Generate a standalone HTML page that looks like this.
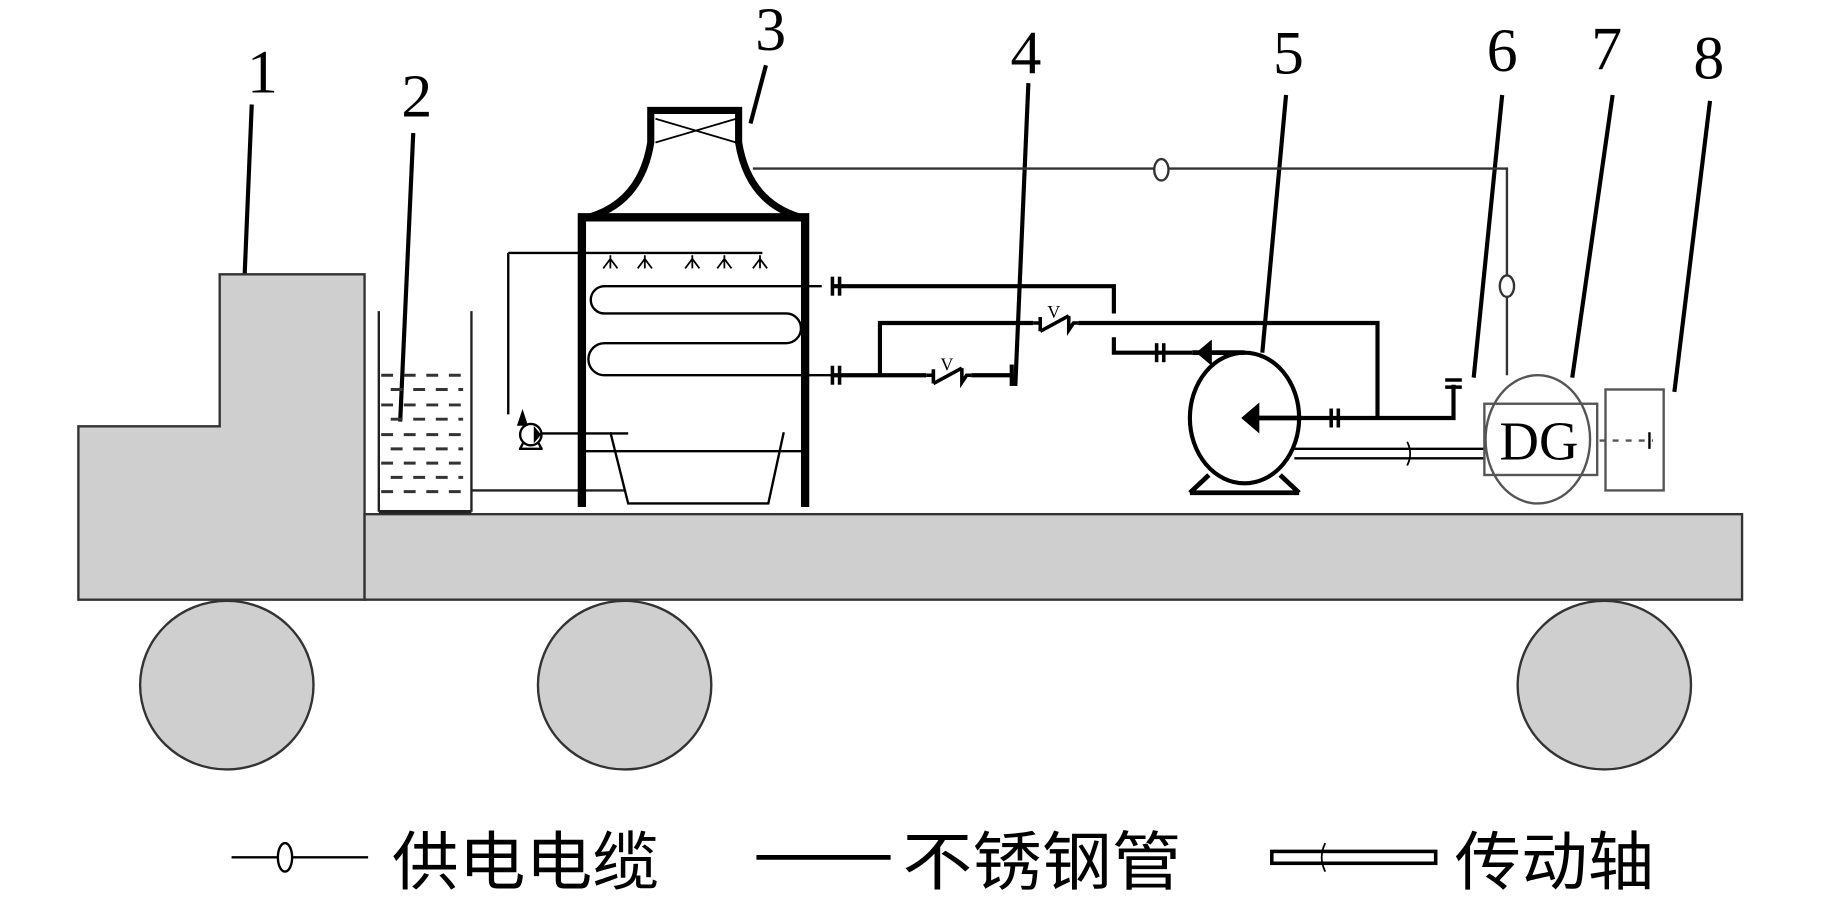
<!DOCTYPE html>
<html><head><meta charset="utf-8"><style>
html,body{margin:0;padding:0;background:#fff;}
svg{display:block;}
</style></head><body>
<svg width="1843" height="909" viewBox="0 0 1552 765.5" preserveAspectRatio="none" xmlns="http://www.w3.org/2000/svg">
<g font-family="'Liberation Serif', serif" font-size="52" fill="#000">
<text x="208" y="78">1</text>
<text x="338" y="98">2</text>
<text x="636" y="42">3</text>
<text x="851" y="62">4</text>
<text x="1072" y="62">5</text>
<text x="1252" y="60">6</text>
<text x="1340" y="58">7</text>
<text x="1426" y="66">8</text>
</g>
<g stroke="#000" stroke-width="3.5" fill="none">
<line x1="212" y1="88" x2="206" y2="232"/>
<line x1="348" y1="112" x2="337" y2="355"/>
<line x1="645" y1="55" x2="632" y2="104"/>
<line x1="866" y1="70" x2="855" y2="325"/>
<line x1="1083" y1="80" x2="1063" y2="297"/>
<line x1="1265" y1="80" x2="1241" y2="318"/>
<line x1="1358" y1="80" x2="1324" y2="318"/>
<line x1="1440" y1="85" x2="1410" y2="330"/>
</g>
<!-- truck -->
<g fill="#cfcfcf" stroke="#333" stroke-width="2">
<polygon points="66,359 185,359 185,231 307,231 307,505 66,505"/>
<rect x="307" y="433" width="1160" height="72"/>
<ellipse cx="191" cy="577" rx="73" ry="71"/>
<ellipse cx="526" cy="577" rx="73" ry="71"/>
<ellipse cx="1351" cy="577" rx="73" ry="71"/>
</g>
<!-- tank -->
<g stroke="#222" fill="none">
<line x1="319" y1="262" x2="319" y2="431" stroke-width="2"/>
<line x1="397" y1="262" x2="397" y2="431" stroke-width="2"/>
<line x1="319" y1="431" x2="397" y2="431" stroke-width="3"/>
<g stroke-width="2.5" stroke-dasharray="10,9" stroke="#333">
<line x1="321" y1="316" x2="397" y2="316"/>
<line x1="329" y1="328" x2="390" y2="328"/>
<line x1="321" y1="341" x2="397" y2="341"/>
<line x1="329" y1="353" x2="390" y2="353"/>
<line x1="321" y1="366" x2="397" y2="366"/>
<line x1="329" y1="378" x2="390" y2="378"/>
<line x1="321" y1="390" x2="397" y2="390"/>
<line x1="329" y1="402" x2="390" y2="402"/>
<line x1="321" y1="414" x2="397" y2="414"/>
</g>
<line x1="397" y1="413" x2="527" y2="413" stroke-width="2"/>
</g>
<!-- tower -->
<g stroke="#000" fill="none">
<path d="M490 427 V183 H678 V427" stroke-width="7"/>
<path d="M496 183 Q540 170 548 120 V93 H622 V120 Q630 170 674 183" stroke-width="6"/>
<path d="M552 100 L620 120 M620 100 L552 120" stroke-width="1.5"/>
<line x1="428" y1="213" x2="642" y2="213" stroke-width="2"/>
<line x1="428" y1="213" x2="428" y2="349" stroke-width="2"/>
<line x1="493" y1="380" x2="678" y2="380" stroke-width="2"/>
<path d="M514 364 L529 424 H647 L660 364" stroke-width="2"/>
<line x1="452" y1="365" x2="529" y2="365" stroke-width="2"/>
<circle cx="447" cy="366" r="9" stroke-width="2" fill="#fff"/>
<path d="M438 378 L441 372 M456 378 L453 372 M437 378 H457" stroke-width="2"/>
<path d="M440 346 L444 358 L436 358 Z M450 360 L455 366 L450 372 Z" fill="#000" stroke-width="1"/>
<path d="M692 241 H509 A11.5 11.5 0 0 0 509 264 H662 A12.5 12.5 0 0 1 662 289 H509 A13.5 13.5 0 0 0 509 316 H700" stroke-width="2"/>
<g stroke-width="1.5">
<path d="M514 215 V220 M508 226 L514 218 L520 226 M514 218 V226"/>
<path d="M543 215 V220 M537 226 L543 218 L549 226 M543 218 V226"/>
<path d="M583 215 V220 M577 226 L583 218 L589 226 M583 218 V226"/>
<path d="M610 215 V220 M604 226 L610 218 L616 226 M610 218 V226"/>
<path d="M640 215 V220 M634 226 L640 218 L646 226 M640 218 V226"/>
</g>
</g>
<!-- power cable -->
<g stroke="#333" stroke-width="2" fill="#fff">
<polyline points="634,142 1269,142 1269,316" fill="none"/>
<ellipse cx="978" cy="143" rx="6" ry="9"/>
<ellipse cx="1269" cy="241" rx="6" ry="9"/>
</g>
<!-- steel pipes -->
<g stroke="#000" stroke-width="3.5" fill="none">
<polyline points="700,241 938,241 938,264"/>
<polyline points="938,284 938,297 1004,297"/>
<polyline points="700,316 852,316"/>
<polyline points="741,316 741,272 1160,272 1160,351"/>
<polyline points="1049,352 1224,352 1224,324"/>
<line x1="852" y1="307" x2="852" y2="325"/>
<g stroke-width="3">
<line x1="701" y1="233" x2="701" y2="249"/><line x1="707" y1="233" x2="707" y2="249"/>
<line x1="701" y1="308" x2="701" y2="324"/><line x1="707" y1="308" x2="707" y2="324"/>
<line x1="974" y1="289" x2="974" y2="305"/><line x1="980" y1="289" x2="980" y2="305"/>
<line x1="1121" y1="344" x2="1121" y2="360"/><line x1="1127" y1="344" x2="1127" y2="360"/>
<line x1="1217" y1="320" x2="1231" y2="320"/><line x1="1217" y1="326" x2="1231" y2="326"/>
</g>
</g>
<rect x="780" y="310" width="38" height="12" fill="#fff"/>
<rect x="870" y="266" width="38" height="12" fill="#fff"/>
<g stroke="#000" stroke-width="3" fill="none">
<path d="M780 316 H786 M786 311 V323 M786 323 L810 310 M810 310 V322 L814 316 H818"/>
<text x="792" y="312" font-family="'Liberation Serif',serif" font-size="15" stroke="none" fill="#000">V</text>
<path d="M870 272 H876 M876 267 V279 M876 279 L900 266 M900 266 V278 L904 272 H908"/>
<text x="882" y="268" font-family="'Liberation Serif',serif" font-size="15" stroke="none" fill="#000">V</text>
</g>
<!-- pump 5 -->
<g stroke="#000" fill="none">
<ellipse cx="1048" cy="352" rx="46" ry="55" stroke-width="3.5" fill="#fff"/>
<path d="M1002 415 L1018 400 M1094 415 L1078 400 M1002 415 H1094" stroke-width="4"/>
<line x1="1052" y1="352" x2="1096" y2="352" stroke-width="4"/>
<path d="M1046 352 L1060 340 L1060 364 Z" fill="#000"/>
<line x1="1004" y1="297" x2="1048" y2="297" stroke-width="4"/>
<path d="M1008 297 L1020 287 L1020 307 Z" fill="#000"/>
<line x1="1090" y1="378" x2="1251" y2="378" stroke-width="2"/>
<line x1="1090" y1="386" x2="1251" y2="386" stroke-width="2"/>
<path d="M1185 372 Q1190 382 1185 392" stroke-width="1.5"/>
</g>
<!-- DG & 8 -->
<g stroke="#555" stroke-width="2" fill="none">
<rect x="1250" y="340" width="95" height="60"/>
<ellipse cx="1295" cy="370" rx="44" ry="54"/>
<rect x="1352" y="328" width="49" height="85"/>
<line x1="1347" y1="371" x2="1392" y2="371" stroke-dasharray="5,6"/>
<line x1="1389" y1="364" x2="1389" y2="378" stroke="#000"/>
</g>
<text x="1296" y="387" text-anchor="middle" font-family="'Liberation Serif',serif" font-size="46" fill="#000">DG</text>
<!-- legend -->
<g stroke="#000" fill="none">
<line x1="195" y1="722" x2="310" y2="722" stroke-width="2"/>
<ellipse cx="240" cy="722" rx="6" ry="12" fill="#fff" stroke-width="2"/>
<line x1="637" y1="722" x2="750" y2="722" stroke-width="4"/>
<rect x="1071" y="717" width="138" height="10" stroke-width="3"/>
<path d="M1116 710 Q1110 722 1116 734" stroke-width="1.5"/>
</g>
<g font-family="'Liberation Sans','Noto Sans CJK SC',sans-serif" font-size="54" fill="#000">
<text x="330" y="745" textLength="225" lengthAdjust="spacingAndGlyphs">供电电缆</text>
<text x="760" y="745" textLength="235" lengthAdjust="spacingAndGlyphs">不锈钢管</text>
<text x="1225" y="745" textLength="168" lengthAdjust="spacingAndGlyphs">传动轴</text>
</g>
</svg>
</body></html>
